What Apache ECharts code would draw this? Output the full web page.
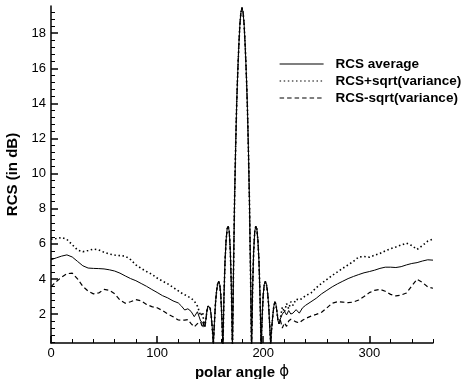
<!DOCTYPE html>
<html>
<head>
<meta charset="UTF-8">
<title>RCS vs polar angle</title>
<script src="https://cdn.jsdelivr.net/npm/echarts@6/dist/echarts.min.js"></script>
<style>
  html, body { margin: 0; padding: 0; background: #fff; }
  #chart { width: 464px; height: 379px; }
</style>
</head>
<body>
<div id="chart"></div>
<script>
// angle grid for the left flank, three curves
const phiLeft = [0,5,10,15,20,25,30,35,40,45,50,55,60,65,70,75,80,85,90,95,100,105,110,115,120,123,126,129,132,135,138,141,143];
const avgLeft = [5.09,5.2,5.3,5.37,5.25,5.0,4.75,4.62,4.6,4.59,4.57,4.52,4.45,4.33,4.17,4.02,3.9,3.74,3.58,3.4,3.23,3.05,2.92,2.75,2.63,2.45,2.23,2.3,2.15,1.85,2.13,1.6,1.5];
const upLeft = [6.27,6.3,6.36,6.25,5.95,5.65,5.55,5.62,5.7,5.65,5.52,5.42,5.36,5.33,5.3,5.1,4.8,4.6,4.42,4.27,4.05,3.88,3.72,3.52,3.32,3.2,3.1,3.0,2.9,2.75,2.45,1.9,2.1];
const downLeft = [3.56,3.85,4.1,4.3,4.33,4.0,3.58,3.3,3.15,3.2,3.4,3.35,3.15,2.8,2.62,2.7,2.82,2.75,2.55,2.42,2.36,2.2,2.0,1.85,1.66,1.65,1.65,1.68,1.45,1.27,1.45,1.56,1.2];

// lobe region, where the three curves coincide
const phiLobe = [144,145,146,147,148,149,150,151,152,153,154,155,156,157,158,159,160,161,162,163,164,165,166,167,168,169,170,171,172,173,174,175,176,177,178,179,180,181,182,183,184,185,186,187,188,189,190,191,192,193,194,195,196,197,198,199,200,201,202,203,204,205,206,207,208,209,210,211,212,213,214,215,216];
const rcsLobe = [1.5,1.3,1.7,2.2,2.45,2.5,2.35,1.9,1.2,0.3,1.5,2.6,3.3,3.7,3.85,3.7,3.1,1.8,0.1,3.0,5.0,6.2,6.85,7.0,6.7,5.6,3.5,0,4.5,8.5,11.5,14.0,15.8,17.3,18.5,19.2,19.45,19.2,18.5,17.3,15.8,14.0,11.5,8.5,4.5,0,3.5,5.6,6.7,7.0,6.85,6.2,5.0,3.0,0.1,1.8,3.1,3.7,3.85,3.7,3.3,2.6,1.5,0.3,1.2,1.9,2.45,2.7,2.55,2.1,1.6,1.45,1.7];

// right flank
const phiRight = [218,220,222,224,226,228,231,234,237,240,245,250,255,260,265,270,275,280,285,290,295,300,305,310,315,320,325,330,335,340,345,350,355,360];
const avgRight = [2.0,2.15,1.95,2.2,2.0,2.05,2.25,2.05,2.35,2.5,2.7,2.9,3.15,3.35,3.55,3.72,3.87,4.02,4.14,4.25,4.35,4.42,4.5,4.6,4.67,4.67,4.65,4.7,4.8,4.88,4.93,5.02,5.09,5.07];
const upRight = [2.4,2.1,2.6,2.3,2.7,2.5,2.85,2.8,2.9,3.05,3.2,3.5,3.75,3.97,4.2,4.4,4.61,4.8,5.0,5.25,5.28,5.24,5.35,5.45,5.6,5.72,5.82,5.93,6.04,5.9,5.68,5.9,6.15,6.27];
const downRight = [1.2,1.5,1.3,1.6,1.7,1.65,1.55,1.5,1.65,1.75,1.88,1.98,2.1,2.35,2.62,2.7,2.68,2.65,2.68,2.8,3.0,3.22,3.35,3.41,3.3,3.12,3.03,3.08,3.2,3.6,3.98,3.8,3.55,3.47];

const seriesNames = ['RCS average', 'RCS+sqrt(variance)', 'RCS-sqrt(variance)'];

// ticks
const xMajor = [0,100,200,300];
const xMinor = [20,40,60,80,120,140,160,180,220,240,260,280,320,340,360];
const yMajor = [2,4,6,8,10,12,14,16,18];
const yMinor = [0.4,0.8,1.2,1.6,2.4,2.8,3.2,3.6,4.4,4.8,5.2,5.6,6.4,6.8,7.2,7.6,8.4,8.8,9.2,9.6,10.4,10.8,11.2,11.6,12.4,12.8,13.2,13.6,14.4,14.8,15.2,15.6,16.4,16.8,17.2,17.6,18.4,18.8,19.2];

function pairs(xs, ys) {
  return xs.map((x, i) => [x, ys[i]]);
}
function build(left, right) {
  return pairs(phiLeft, left).concat(pairs(phiLobe, rcsLobe), pairs(phiRight, right));
}

const font = 'Liberation Sans, Arial, Helvetica, sans-serif';
const black = '#000';

const chart = echarts.init(document.getElementById('chart'), null, { renderer: 'canvas' });
chart.setOption({
  animation: false,
  backgroundColor: '#fff',
  textStyle: { fontFamily: font },
  grid: { left: 51, right: 31, top: 6, bottom: 36, containLabel: false, outerBoundsMode: 'none' },
  legend: {
    data: seriesNames,
    orient: 'vertical',
    left: 279,
    top: 57,
    padding: 0,
    itemWidth: 44,
    itemHeight: 12,
    itemGap: 3,
    itemStyle: { opacity: 0, borderWidth: 0 },
    lineStyle: { width: 1.2 },
    textStyle: { fontFamily: font, fontWeight: 'bold', fontSize: 13.5, color: black, padding: [0, 0, 0, 7] }
  },
  xAxis: [{
    type: 'value', min: 0, max: 360, position: 'bottom',
    axisLine: { onZero: false, lineStyle: { color: black, width: 1.5 } },
    axisTick: { inside: true, length: 7, customValues: xMajor, lineStyle: { color: black, width: 1.5 } },
    axisLabel: { customValues: xMajor, color: black, fontSize: 13, margin: 4, fontFamily: font },
    splitLine: { show: false },
    name: 'polar angle {p|ϕ}',
    nameLocation: 'middle',
    nameGap: 14,
    nameTextStyle: {
      fontFamily: font, fontWeight: 'bold', fontSize: 15, color: black,
      rich: { p: { fontFamily: 'DejaVu Sans, sans-serif', fontWeight: 'normal', fontSize: 15, color: black } }
    }
  }, {
    type: 'value', min: 0, max: 360, position: 'bottom',
    axisLine: { show: false, onZero: false },
    axisTick: { inside: true, length: 4, customValues: xMinor, lineStyle: { color: black, width: 1 } },
    axisLabel: { show: false },
    splitLine: { show: false }
  }],
  yAxis: [{
    type: 'value', min: 0.35, max: 19.55, position: 'left',
    axisLine: { onZero: false, lineStyle: { color: black, width: 1.5 } },
    axisTick: { inside: true, length: 7, customValues: yMajor, lineStyle: { color: black, width: 1.5 } },
    axisLabel: { customValues: yMajor, color: black, fontSize: 13, margin: 5, fontFamily: font },
    splitLine: { show: false },
    name: 'RCS (in dB)',
    nameLocation: 'middle',
    nameGap: 22,
    nameTextStyle: { fontFamily: font, fontWeight: 'bold', fontSize: 15, color: black }
  }, {
    type: 'value', min: 0.35, max: 19.55, position: 'left',
    axisLine: { show: false, onZero: false },
    axisTick: { inside: true, length: 4, customValues: yMinor, lineStyle: { color: black, width: 1 } },
    axisLabel: { show: false },
    splitLine: { show: false }
  }],
  series: [
    {
      name: seriesNames[0], type: 'line', symbol: 'none', clip: true,
      data: build(avgLeft, avgRight),
      lineStyle: { color: black, width: 1, type: 'solid' },
      itemStyle: { color: black }
    },
    {
      name: seriesNames[1], type: 'line', symbol: 'none', clip: true,
      data: build(upLeft, upRight),
      lineStyle: { color: black, width: 1.6, type: [1.5, 2.6] },
      itemStyle: { color: black }
    },
    {
      name: seriesNames[2], type: 'line', symbol: 'none', clip: true,
      data: build(downLeft, downRight),
      lineStyle: { color: black, width: 1.2, type: [4.5, 3] },
      itemStyle: { color: black }
    }
  ]
});
</script>
</body>
</html>
